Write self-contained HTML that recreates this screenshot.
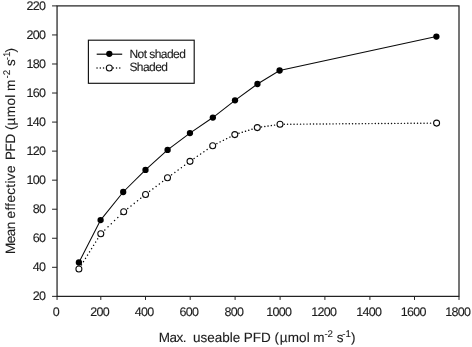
<!DOCTYPE html>
<html><head><meta charset="utf-8"><title>PFD chart</title>
<style>
html,body{margin:0;padding:0;background:#fff;}
svg{display:block;font-family:"Liberation Sans",Arial,sans-serif;fill:#1c1c1c;text-rendering:geometricPrecision;}
text{stroke:#1c1c1c;stroke-width:0.12px;}
.tk{font-size:12.5px;letter-spacing:-0.7px;}
.ti{font-size:13.5px;}
.lg{font-size:12px;letter-spacing:-0.55px;}
</style></head><body>
<svg width="472" height="347" viewBox="0 0 472 347">
<rect x="0" y="0" width="472" height="347" fill="#ffffff"/>
<rect x="57.05" y="5.9" width="401.95" height="290.45" fill="none" stroke="#111" stroke-width="1.15"/>
<line x1="57.05" y1="296.35" x2="57.05" y2="299.95000000000005" stroke="#222" stroke-width="1"/>
<line x1="100.8" y1="296.35" x2="100.8" y2="299.95000000000005" stroke="#222" stroke-width="1"/>
<line x1="145.5" y1="296.35" x2="145.5" y2="299.95000000000005" stroke="#222" stroke-width="1"/>
<line x1="190.2" y1="296.35" x2="190.2" y2="299.95000000000005" stroke="#222" stroke-width="1"/>
<line x1="235.1" y1="296.35" x2="235.1" y2="299.95000000000005" stroke="#222" stroke-width="1"/>
<line x1="280.1" y1="296.35" x2="280.1" y2="299.95000000000005" stroke="#222" stroke-width="1"/>
<line x1="324.9" y1="296.35" x2="324.9" y2="299.95000000000005" stroke="#222" stroke-width="1"/>
<line x1="369.9" y1="296.35" x2="369.9" y2="299.95000000000005" stroke="#222" stroke-width="1"/>
<line x1="414.5" y1="296.35" x2="414.5" y2="299.95000000000005" stroke="#222" stroke-width="1"/>
<line x1="459.0" y1="296.35" x2="459.0" y2="299.95000000000005" stroke="#222" stroke-width="1"/>
<line x1="52.05" y1="296.35" x2="57.05" y2="296.35" stroke="#222" stroke-width="1"/>
<line x1="52.05" y1="267.31" x2="57.05" y2="267.31" stroke="#222" stroke-width="1"/>
<line x1="52.05" y1="238.26" x2="57.05" y2="238.26" stroke="#222" stroke-width="1"/>
<line x1="52.05" y1="209.22" x2="57.05" y2="209.22" stroke="#222" stroke-width="1"/>
<line x1="52.05" y1="180.17" x2="57.05" y2="180.17" stroke="#222" stroke-width="1"/>
<line x1="52.05" y1="151.12" x2="57.05" y2="151.12" stroke="#222" stroke-width="1"/>
<line x1="52.05" y1="122.08" x2="57.05" y2="122.08" stroke="#222" stroke-width="1"/>
<line x1="52.05" y1="93.03" x2="57.05" y2="93.03" stroke="#222" stroke-width="1"/>
<line x1="52.05" y1="63.99" x2="57.05" y2="63.99" stroke="#222" stroke-width="1"/>
<line x1="52.05" y1="34.94" x2="57.05" y2="34.94" stroke="#222" stroke-width="1"/>
<line x1="52.05" y1="5.90" x2="57.05" y2="5.90" stroke="#222" stroke-width="1"/>
<text class="tk" x="55.80" y="316.4" text-anchor="middle">0</text>
<text class="tk" x="99.55" y="316.4" text-anchor="middle">200</text>
<text class="tk" x="144.25" y="316.4" text-anchor="middle">400</text>
<text class="tk" x="188.95" y="316.4" text-anchor="middle">600</text>
<text class="tk" x="233.85" y="316.4" text-anchor="middle">800</text>
<text class="tk" x="278.85" y="316.4" text-anchor="middle">1000</text>
<text class="tk" x="323.65" y="316.4" text-anchor="middle">1200</text>
<text class="tk" x="368.65" y="316.4" text-anchor="middle">1400</text>
<text class="tk" x="413.25" y="316.4" text-anchor="middle">1600</text>
<text class="tk" x="457.75" y="316.4" text-anchor="middle">1800</text>
<text class="tk" x="45.2" y="300.05" text-anchor="end">20</text>
<text class="tk" x="45.2" y="271.00" text-anchor="end">40</text>
<text class="tk" x="45.2" y="241.96" text-anchor="end">60</text>
<text class="tk" x="45.2" y="212.91" text-anchor="end">80</text>
<text class="tk" x="45.2" y="183.87" text-anchor="end">100</text>
<text class="tk" x="45.2" y="154.82" text-anchor="end">120</text>
<text class="tk" x="45.2" y="125.78" text-anchor="end">140</text>
<text class="tk" x="45.2" y="96.73" text-anchor="end">160</text>
<text class="tk" x="45.2" y="67.69" text-anchor="end">180</text>
<text class="tk" x="45.2" y="38.64" text-anchor="end">200</text>
<text class="tk" x="45.2" y="9.60" text-anchor="end">220</text>
<polyline points="78.9,262.5 100.6,220.1 123.2,192.0 145.5,169.9 167.6,149.95 189.95,133.1 212.85,117.55 235.0,100.3 257.45,84.0 279.6,70.5 436.4,36.6" fill="none" stroke="#0a0a0a" stroke-width="1.05"/>
<line x1="78.9" y1="269.0" x2="100.8" y2="233.79999999999998" stroke="#0a0a0a" stroke-width="1.4" stroke-linecap="round" stroke-dasharray="0.1 3.73" stroke-dashoffset="-1"/>
<line x1="100.8" y1="233.79999999999998" x2="123.7" y2="211.75" stroke="#0a0a0a" stroke-width="1.4" stroke-linecap="round" stroke-dasharray="0.1 4.41" stroke-dashoffset="-1"/>
<line x1="123.7" y1="211.75" x2="145.54999999999998" y2="194.4" stroke="#0a0a0a" stroke-width="1.4" stroke-linecap="round" stroke-dasharray="0.1 4.05" stroke-dashoffset="-1"/>
<line x1="145.54999999999998" y1="194.4" x2="167.5" y2="177.79999999999998" stroke="#0a0a0a" stroke-width="1.4" stroke-linecap="round" stroke-dasharray="0.1 3.97" stroke-dashoffset="-1"/>
<line x1="167.5" y1="177.79999999999998" x2="190.0" y2="161.35" stroke="#0a0a0a" stroke-width="1.4" stroke-linecap="round" stroke-dasharray="0.1 3.93" stroke-dashoffset="-1"/>
<line x1="190.0" y1="161.35" x2="212.7" y2="145.7" stroke="#0a0a0a" stroke-width="1.4" stroke-linecap="round" stroke-dasharray="0.1 3.85" stroke-dashoffset="-1"/>
<line x1="212.7" y1="145.7" x2="234.79999999999998" y2="134.6" stroke="#0a0a0a" stroke-width="1.4" stroke-linecap="round" stroke-dasharray="0.1 3.54" stroke-dashoffset="-1"/>
<line x1="234.79999999999998" y1="134.6" x2="257.3" y2="127.6" stroke="#0a0a0a" stroke-width="1.4" stroke-linecap="round" stroke-dasharray="0.1 3.30" stroke-dashoffset="-1"/>
<line x1="257.3" y1="127.6" x2="280.0" y2="124.3" stroke="#0a0a0a" stroke-width="1.4" stroke-linecap="round" stroke-dasharray="0.1 3.18" stroke-dashoffset="-1"/>
<line x1="280.0" y1="124.3" x2="436.59999999999997" y2="123.1" stroke="#0a0a0a" stroke-width="1.4" stroke-linecap="round" stroke-dasharray="0.1 3.15" stroke-dashoffset="-1"/>
<circle cx="78.9" cy="262.5" r="3.15" fill="#000"/>
<circle cx="100.6" cy="220.1" r="3.15" fill="#000"/>
<circle cx="123.2" cy="192.0" r="3.15" fill="#000"/>
<circle cx="145.5" cy="169.9" r="3.15" fill="#000"/>
<circle cx="167.6" cy="149.95" r="3.15" fill="#000"/>
<circle cx="189.95" cy="133.1" r="3.15" fill="#000"/>
<circle cx="212.85" cy="117.55" r="3.15" fill="#000"/>
<circle cx="235.0" cy="100.3" r="3.15" fill="#000"/>
<circle cx="257.45" cy="84.0" r="3.15" fill="#000"/>
<circle cx="279.6" cy="70.5" r="3.15" fill="#000"/>
<circle cx="436.4" cy="36.6" r="3.15" fill="#000"/>
<circle cx="78.9" cy="269.0" r="3.0" fill="#fff" stroke="#0a0a0a" stroke-width="1.05"/>
<circle cx="100.8" cy="233.79999999999998" r="3.0" fill="#fff" stroke="#0a0a0a" stroke-width="1.05"/>
<circle cx="123.7" cy="211.75" r="3.0" fill="#fff" stroke="#0a0a0a" stroke-width="1.05"/>
<circle cx="145.54999999999998" cy="194.4" r="3.0" fill="#fff" stroke="#0a0a0a" stroke-width="1.05"/>
<circle cx="167.5" cy="177.79999999999998" r="3.0" fill="#fff" stroke="#0a0a0a" stroke-width="1.05"/>
<circle cx="190.0" cy="161.35" r="3.0" fill="#fff" stroke="#0a0a0a" stroke-width="1.05"/>
<circle cx="212.7" cy="145.7" r="3.0" fill="#fff" stroke="#0a0a0a" stroke-width="1.05"/>
<circle cx="234.79999999999998" cy="134.6" r="3.0" fill="#fff" stroke="#0a0a0a" stroke-width="1.05"/>
<circle cx="257.3" cy="127.6" r="3.0" fill="#fff" stroke="#0a0a0a" stroke-width="1.05"/>
<circle cx="280.0" cy="124.3" r="3.0" fill="#fff" stroke="#0a0a0a" stroke-width="1.05"/>
<circle cx="436.59999999999997" cy="123.1" r="3.0" fill="#fff" stroke="#0a0a0a" stroke-width="1.05"/>
<rect x="88.4" y="40.2" width="105.8" height="43.1" fill="#fff" stroke="#111" stroke-width="1.15"/>
<line x1="96.7" y1="54.2" x2="122.2" y2="54.2" stroke="#0a0a0a" stroke-width="1.2"/>
<circle cx="109.3" cy="53.8" r="3.15" fill="#000"/>
<line x1="96.7" y1="68.0" x2="121.5" y2="68.0" stroke="#0a0a0a" stroke-width="1.4" stroke-linecap="round" stroke-dasharray="0.1 3.15" stroke-dashoffset="-0.3"/>
<circle cx="109.3" cy="67.9" r="3.0" fill="#fff" stroke="#0a0a0a" stroke-width="1.05"/>
<text class="lg" x="129.4" y="57.6">Not shaded</text>
<text class="lg" x="129.4" y="71.4">Shaded</text>
<text class="ti" id="xt"><tspan x="158.8" y="342.3" letter-spacing="-0.5">Max. </tspan><tspan x="192.9" y="342.3">useable </tspan><tspan x="243.8" y="342.3">PFD </tspan><tspan x="274.5" y="342.3">(</tspan><tspan x="279.8" y="342.3" letter-spacing="0.15">µmol </tspan><tspan x="313.2" y="342.3">m</tspan><tspan x="324.4" y="336.7" font-size="9.7px">-2</tspan><tspan x="332.0" y="342.3"> </tspan><tspan x="336.7" y="342.3">s</tspan><tspan x="342.3" y="336.7" font-size="9.7px">-1</tspan><tspan x="351.0" y="342.3">)</tspan></text>
<text class="ti" id="yt" transform="translate(15.2 254.0) rotate(-90)"><tspan x="0.0" y="0.0" letter-spacing="-0.5">Mean </tspan><tspan x="35.5" y="0.0" letter-spacing="0.37">effective </tspan><tspan x="94.0" y="0.0" letter-spacing="-0.4">PFD </tspan><tspan x="124.0" y="0.0">(</tspan><tspan x="128.6" y="0.0" letter-spacing="0.4">µmol </tspan><tspan x="163.0" y="0.0">m</tspan><tspan x="175.6" y="-5.6" font-size="9.7px">-2</tspan><tspan x="183.0" y="0.0"> </tspan><tspan x="188.0" y="0.0">s</tspan><tspan x="193.7" y="-5.6" font-size="9.7px">-1</tspan><tspan x="201.5" y="0.0">)</tspan></text>
</svg></body></html>
